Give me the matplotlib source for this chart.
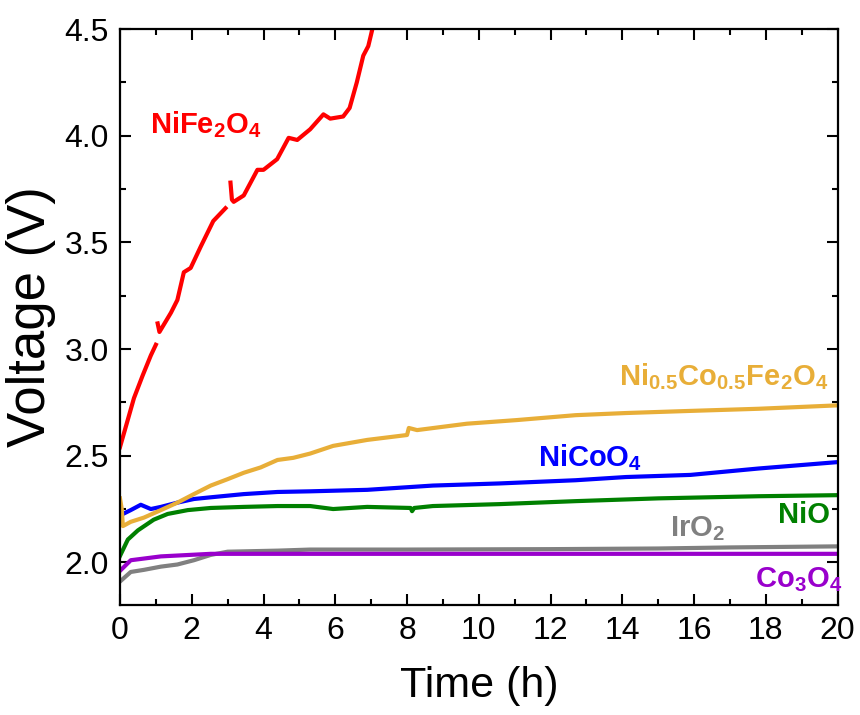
import numpy as np
import matplotlib
matplotlib.use('Agg')
import matplotlib.pyplot as plt
from matplotlib.ticker import MultipleLocator

plt.rcParams['font.family'] = ['Liberation Sans', 'DejaVu Sans']
plt.rcParams['mathtext.fontset'] = 'custom'
plt.rcParams['mathtext.rm'] = 'Liberation Sans:bold'
plt.rcParams['mathtext.it'] = 'Liberation Sans:bold'
plt.rcParams['mathtext.bf'] = 'Liberation Sans:bold'

# NiFe2O4 (red), two small breaks around 1 h and 3 h
t_nife = [0.0, 0.17, 0.39, 0.63, 0.86, 1.0, np.nan, 1.05, 1.1, 1.42, 1.6, 1.78, 1.97, 2.25, 2.6, 2.94,
          np.nan, 3.08, 3.12, 3.17, 3.45, 3.83, 4.0, 4.38, 4.7, 4.94, 5.3, 5.67, 5.86, 6.22, 6.4, 6.6,
          6.78, 6.92, 7.02, 7.15]
v_nife = [2.54, 2.64, 2.77, 2.875, 2.97, 3.02, np.nan, 3.12, 3.08, 3.17, 3.23, 3.36, 3.38, 3.48, 3.6, 3.66,
          np.nan, 3.78, 3.70, 3.69, 3.72, 3.84, 3.84, 3.89, 3.99, 3.98, 4.03, 4.1, 4.08, 4.09, 4.13, 4.25,
          4.375, 4.42, 4.49, 4.6]

# Ni0.5Co0.5Fe2O4 (yellow)
t_nicofe = [0.0, 0.05, 0.08, 0.3, 0.67, 1.14, 1.6, 2.06, 2.53, 3.0, 3.45, 3.92, 4.39, 4.83, 5.3, 5.94,
            6.89, 8.0, 8.05, 8.28, 9.67, 11.06, 12.7, 14.1, 15.9, 17.8, 20.0]
v_nicofe = [2.30, 2.25, 2.17, 2.19, 2.21, 2.245, 2.28, 2.32, 2.36, 2.39, 2.42, 2.445, 2.48, 2.49, 2.51, 2.546,
            2.574, 2.597, 2.63, 2.62, 2.65, 2.667, 2.69, 2.70, 2.71, 2.72, 2.736]

# NiCoO4 (blue)
t_nicoo = [0.0, 0.3, 0.58, 0.86, 1.14, 1.6, 2.06, 2.53, 3.45, 4.39, 5.3, 6.89, 8.72, 10.58, 12.7,
           14.1, 15.9, 17.8, 20.0]
v_nicoo = [2.22, 2.245, 2.27, 2.25, 2.26, 2.28, 2.297, 2.305, 2.32, 2.33, 2.333, 2.34, 2.36, 2.37, 2.385,
           2.40, 2.41, 2.44, 2.47]

# NiO (green)
t_nio = [0.0, 0.22, 0.5, 0.94, 1.33, 1.89, 2.53, 3.45, 4.39, 5.3, 5.94, 6.89, 8.1, 8.14, 8.2, 8.72,
         10.58, 12.7, 15.0, 17.8, 20.0]
v_nio = [2.03, 2.107, 2.15, 2.20, 2.227, 2.245, 2.255, 2.26, 2.264, 2.264, 2.25, 2.26, 2.255, 2.24, 2.255, 2.264,
         2.273, 2.287, 2.30, 2.31, 2.315]

# Co3O4 (purple)
t_co = [0.0, 0.3, 1.14, 2.53, 5.3, 10.0, 15.0, 20.0]
v_co = [1.96, 2.01, 2.028, 2.04, 2.04, 2.04, 2.04, 2.04]

# IrO2 (gray)
t_ir = [0.0, 0.3, 0.67, 1.14, 1.6, 2.06, 2.53, 3.0, 4.4, 5.3, 8.0, 12.0, 15.0, 17.0, 20.0]
v_ir = [1.91, 1.955, 1.965, 1.98, 1.99, 2.01, 2.035, 2.05, 2.055, 2.06, 2.06, 2.062, 2.065, 2.07, 2.075]

fig = plt.figure(figsize=(8.6, 7.15), dpi=100)
ax = fig.add_axes([0.1395, 0.1538, 0.8345, 0.8056])

lw = 3.0
ax.plot(t_ir, v_ir, color='#808080', lw=lw)
ax.plot(t_co, v_co, color='#9900CC', lw=lw)
ax.plot(t_nio, v_nio, color='#008000', lw=lw)
ax.plot(t_nicoo, v_nicoo, color='#0000FF', lw=lw)
ax.plot(t_nicofe, v_nicofe, color='#E8AE38', lw=lw)
ax.plot(t_nife, v_nife, color='#FF0000', lw=lw)

fs = 21
ax.text(2.4, 4.05, r'NiFe$_2$O$_4$', color='#FF0000', fontsize=fs, fontweight='bold', ha='center', va='center')
ax.text(19.75, 2.87, r'Ni$_{0.5}$Co$_{0.5}$Fe$_2$O$_4$', color='#E8AE38', fontsize=fs, fontweight='bold',
        ha='right', va='center')
ax.text(13.1, 2.49, r'NiCoO$_4$', color='#0000FF', fontsize=fs, fontweight='bold', ha='center', va='center')
ax.text(19.05, 2.22, 'NiO', color='#008000', fontsize=fs, fontweight='bold', ha='center', va='center')
ax.text(16.1, 2.16, r'IrO$_2$', color='#808080', fontsize=fs, fontweight='bold', ha='center', va='center')
ax.text(18.9, 1.92, r'Co$_3$O$_4$', color='#9900CC', fontsize=fs, fontweight='bold', ha='center', va='center')

ax.set_xlim(0, 20)
ax.set_ylim(1.8, 4.5)
ax.xaxis.set_major_locator(MultipleLocator(2))
ax.xaxis.set_minor_locator(MultipleLocator(1))
ax.yaxis.set_major_locator(MultipleLocator(0.5))
ax.yaxis.set_minor_locator(MultipleLocator(0.25))
ax.tick_params(which='both', direction='in', top=True, right=True, width=1.5)
ax.tick_params(which='major', length=8, pad=8)
ax.tick_params(which='minor', length=4)
ax.tick_params(axis='y', labelsize=23)
ax.tick_params(axis='x', labelsize=23)
ax.yaxis.set_major_formatter(matplotlib.ticker.FormatStrFormatter('%.1f'))
for s in ax.spines.values():
    s.set_linewidth(1.6)

ax.set_xlabel('Time (h)', fontsize=31, labelpad=14)
ax.set_ylabel('Voltage (V)', fontsize=38, labelpad=6)

fig.savefig('out.png', dpi=100)
